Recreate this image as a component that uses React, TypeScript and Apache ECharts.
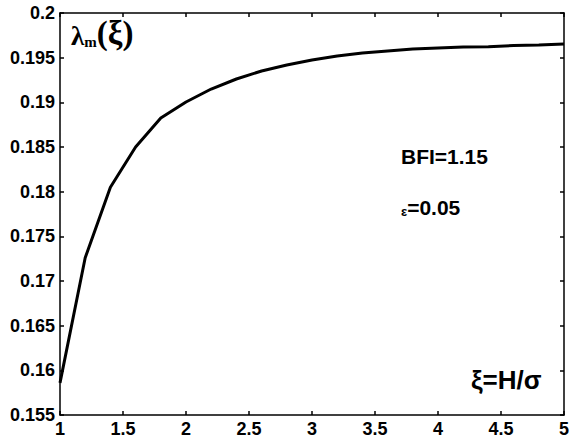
import React, { useEffect, useRef } from "react";
import * as echarts from "echarts";

const xValues = [1, 1.2, 1.4, 1.6, 1.8, 2.0, 2.2, 2.4, 2.6, 2.8, 3.0, 3.2, 3.4, 3.6, 3.8, 4.0, 4.2, 4.4, 4.6, 4.8, 5.0];
const lambdaValues = [0.1586, 0.1726, 0.1805, 0.1850, 0.18825, 0.19004, 0.19149, 0.19261, 0.19351, 0.19418, 0.19474, 0.19519, 0.19552, 0.19575, 0.19597, 0.19608, 0.19619, 0.19621, 0.19636, 0.19642, 0.19653];
const yTickLabels = ["0.155", "0.16", "0.165", "0.17", "0.175", "0.18", "0.185", "0.19", "0.195", "0.2"];
const xTickLabels = ["1", "1.5", "2", "2.5", "3", "3.5", "4", "4.5", "5"];

const FONT = "'Liberation Sans', Arial, sans-serif";
const SERIF = "'Liberation Serif', 'DejaVu Serif', serif";

export default function App() {
  const ref = useRef<HTMLDivElement>(null);
  useEffect(() => {
    if (!ref.current) return;
    const chart = echarts.init(ref.current, undefined, { renderer: "svg" });
    const axisLine = { show: true, lineStyle: { color: "#000", width: 1.5 } };
    const axisTick = { show: true, inside: true, length: 4, lineStyle: { color: "#000", width: 1.5 } };
    chart.setOption({
      animation: false,
      backgroundColor: "#fff",
      grid: { left: 60, top: 13, right: 2, bottom: 28, containLabel: false },
      xAxis: [
        {
          type: "value", min: 1, max: 5, interval: 0.5, position: "bottom",
          axisLine, axisTick, splitLine: { show: false },
          axisLabel: {
            margin: 5, color: "#000", fontFamily: FONT, fontWeight: "bold", fontSize: 18,
            formatter: (v: number) => xTickLabels[Math.round((v - 1) / 0.5)] ?? "",
            showMaxLabel: true, showMinLabel: true,
          },
        },
        {
          type: "value", min: 1, max: 5, interval: 0.5, position: "top",
          axisLine, axisTick, splitLine: { show: false }, axisLabel: { show: false },
        },
      ],
      yAxis: [
        {
          type: "value", min: 0.155, max: 0.2, interval: 0.005, position: "left",
          axisLine, axisTick, splitLine: { show: false },
          axisLabel: {
            margin: 5, color: "#000", fontFamily: FONT, fontWeight: "bold", fontSize: 18,
            formatter: (v: number) => yTickLabels[Math.round((v - 0.155) / 0.005)] ?? "",
          },
        },
        {
          type: "value", min: 0.155, max: 0.2, interval: 0.005, position: "right",
          axisLine, axisTick, splitLine: { show: false }, axisLabel: { show: false },
        },
      ],
      series: [
        {
          type: "line",
          data: xValues.map((x, i) => [x, lambdaValues[i]]),
          showSymbol: false,
          lineStyle: { color: "#000", width: 3 },
          smooth: false,
        },
      ],
      graphic: [
        {
          type: "text", left: 71, top: 16,
          style: {
            text: "{l|λ}{s|m}{a|(ξ)}",
            rich: {
              l: { fontFamily: SERIF, fontSize: 27, fill: "#000", fontWeight: "bold", verticalAlign: "bottom" },
              s: { fontFamily: SERIF, fontSize: 15, fill: "#000", fontWeight: "bold", verticalAlign: "bottom" },
              a: { fontFamily: SERIF, fontSize: 33, fill: "#000", fontWeight: "bold", verticalAlign: "bottom" },
            },
          },
        },
        {
          type: "text", left: 471, top: 367,
          style: { text: "ξ=H/σ", fontFamily: FONT, fontWeight: "bold", fontSize: 26, fill: "#000" },
        },
        {
          type: "text", left: 401, top: 146,
          style: { text: "BFI=1.15", fontFamily: FONT, fontWeight: "bold", fontSize: 21, fill: "#000" },
        },
        {
          type: "text", left: 401, top: 197,
          style: {
            text: "{e|ε}{n|=0.05}",
            rich: {
              e: { fontFamily: FONT, fontWeight: "bold", fontSize: 13, fill: "#000", verticalAlign: "bottom" },
              n: { fontFamily: FONT, fontWeight: "bold", fontSize: 21, fill: "#000", verticalAlign: "bottom" },
            },
          },
        },
      ],
    });
    return () => chart.dispose();
  }, []);
  return <div ref={ref} style={{ width: 572, height: 443, position: "absolute", left: 0, top: 0 }} />;
}
